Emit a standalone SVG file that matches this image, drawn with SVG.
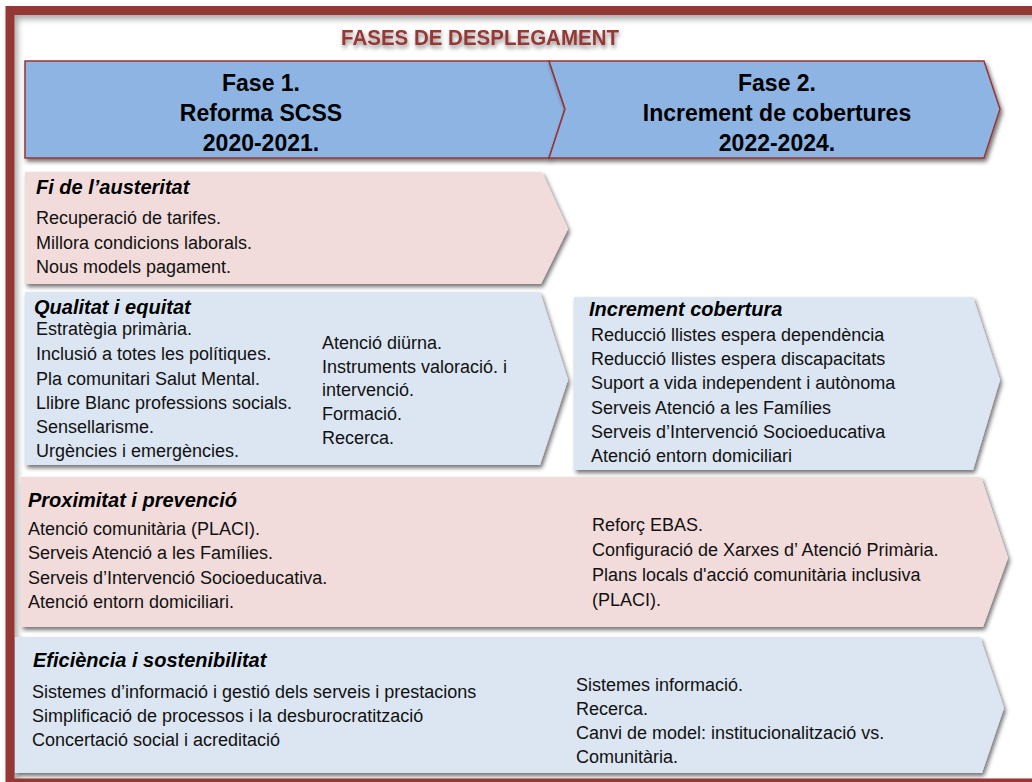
<svg xmlns="http://www.w3.org/2000/svg" width="1032" height="782" viewBox="0 0 1032 782">
<defs>
<filter id="sh" x="-5%" y="-10%" width="115%" height="130%">
<feDropShadow dx="2" dy="3" stdDeviation="2" flood-color="#000" flood-opacity="0.55"/>
</filter>
<filter id="fsh" x="-5%" y="-5%" width="110%" height="110%">
<feDropShadow dx="3" dy="4" stdDeviation="3" flood-color="#000" flood-opacity="0.35"/>
</filter>
<filter id="tsh" x="-10%" y="-30%" width="120%" height="180%">
<feDropShadow dx="1" dy="3" stdDeviation="2" flood-color="#000" flood-opacity="0.45"/>
</filter>
</defs>
<style>
.t{font-family:"Liberation Sans",Arial,sans-serif;font-size:18px;fill:#111}
.h{font-family:"Liberation Sans",Arial,sans-serif;font-size:20px;font-weight:bold;font-style:italic;fill:#000}
.ph{font-family:"Liberation Sans",Arial,sans-serif;font-size:23px;font-weight:bold;fill:#000;text-anchor:middle}
.pink{fill:#F2DCDB}
.blue{fill:#DCE6F2}
.phase{fill:#8DB4E2;stroke:#953735;stroke-width:1.5;stroke-linejoin:miter}
</style>
<rect width="1032" height="782" fill="#fff"/>
<g id="frame">
<rect x="10" y="10.5" width="1040" height="772.5" fill="none" stroke="#953735" stroke-width="9" filter="url(#fsh)"/>
</g>
<g id="title">
<text x="480" y="45" text-anchor="middle" font-family="Liberation Sans,Arial,sans-serif" font-size="22" font-weight="bold" fill="#953735" textLength="278" lengthAdjust="spacingAndGlyphs" filter="url(#tsh)">FASES DE DESPLEGAMENT</text>
</g>
<g id="phase1">
<polygon class="phase" points="25,61 549,61 565,109 549,158 25,158" filter="url(#sh)"/>
<text class="ph" x="261" y="91">Fase 1.</text>
<text class="ph" x="261" y="121">Reforma SCSS</text>
<text class="ph" x="261" y="151">2020-2021.</text>
</g>
<g id="phase2">
<polygon class="phase" points="549,61 984,61 1000,109 984,158 549,158 565,109" filter="url(#sh)"/>
<text class="ph" x="777" y="91">Fase 2.</text>
<text class="ph" x="777" y="121">Increment de cobertures</text>
<text class="ph" x="777" y="151">2022-2024.</text>
</g>
<g id="austeritat">
<polygon class="pink" points="25,172 542,172 568,229 541,284 25,284" filter="url(#sh)"/>
<text class="h" x="36" y="194">Fi de l’austeritat</text>
<text class="t" x="36" y="224">Recuperació  de tarifes.</text>
<text class="t" x="36" y="249">Millora condicions laborals.</text>
<text class="t" x="36" y="273">Nous models pagament.</text>
</g>
<g id="qualitat">
<polygon class="blue" points="25,292 540,292 568,380 540,465 25,465" filter="url(#sh)"/>
<text class="h" x="34" y="314">Qualitat  i equitat</text>
<text class="t" x="36" y="335">Estratègia primària.</text>
<text class="t" x="36" y="360">Inclusió a totes les polítiques.</text>
<text class="t" x="36" y="385">Pla comunitari Salut Mental.</text>
<text class="t" x="36" y="409">Llibre Blanc professions socials.</text>
<text class="t" x="36" y="433">Sensellarisme.</text>
<text class="t" x="36" y="457">Urgències i emergències.</text>
<text class="t" x="322" y="349">Atenció diürna.</text>
<text class="t" x="322" y="373">Instruments valoració. i</text>
<text class="t" x="322" y="396">intervenció.</text>
<text class="t" x="322" y="420">Formació.</text>
<text class="t" x="322" y="444">Recerca.</text>
</g>
<g id="cobertura">
<polygon class="blue" points="574,297 973,297 1000,380 973,470 574,470" filter="url(#sh)"/>
<text class="h" x="589" y="316">Increment cobertura</text>
<text class="t" x="591" y="341">Reducció llistes espera  dependència</text>
<text class="t" x="591" y="365">Reducció llistes espera  discapacitats</text>
<text class="t" x="591" y="389">Suport a vida independent  i autònoma</text>
<text class="t" x="591" y="414">Serveis Atenció a les Famílies</text>
<text class="t" x="591" y="438">Serveis d’Intervenció Socioeducativa</text>
<text class="t" x="591" y="462">Atenció entorn domiciliari</text>
</g>
<g id="proximitat">
<polygon class="pink" points="21,477 981,477 1008,558 983,627 21,627" filter="url(#sh)"/>
<text class="h" x="28" y="507">Proximitat i prevenció</text>
<text class="t" x="28" y="535">Atenció comunitària (PLACI).</text>
<text class="t" x="28" y="559">Serveis Atenció a les Famílies.</text>
<text class="t" x="28" y="584">Serveis d’Intervenció Socioeducativa.</text>
<text class="t" x="28" y="608">Atenció entorn domiciliari.</text>
<text class="t" x="592" y="531">Reforç EBAS.</text>
<text class="t" x="592" y="556">Configuració de Xarxes d’ Atenció Primària.</text>
<text class="t" x="592" y="581">Plans locals d'acció comunitària inclusiva</text>
<text class="t" x="592" y="606">(PLACI).</text>
</g>
<g id="eficiencia">
<polygon class="blue" points="15,637 980,637 1004,708 982,773 15,773" filter="url(#sh)"/>
<text class="h" x="33" y="667">Eficiència i sostenibilitat</text>
<text class="t" x="32" y="698">Sistemes d’informació i gestió dels serveis i prestacions</text>
<text class="t" x="32" y="722">Simplificació de processos  i la desburocratització</text>
<text class="t" x="32" y="746">Concertació social i acreditació</text>
<text class="t" x="576" y="691">Sistemes informació.</text>
<text class="t" x="576" y="715">Recerca.</text>
<text class="t" x="576" y="739">Canvi de model: institucionalització vs.</text>
<text class="t" x="576" y="763">Comunitària.</text>
</g>
</svg>
